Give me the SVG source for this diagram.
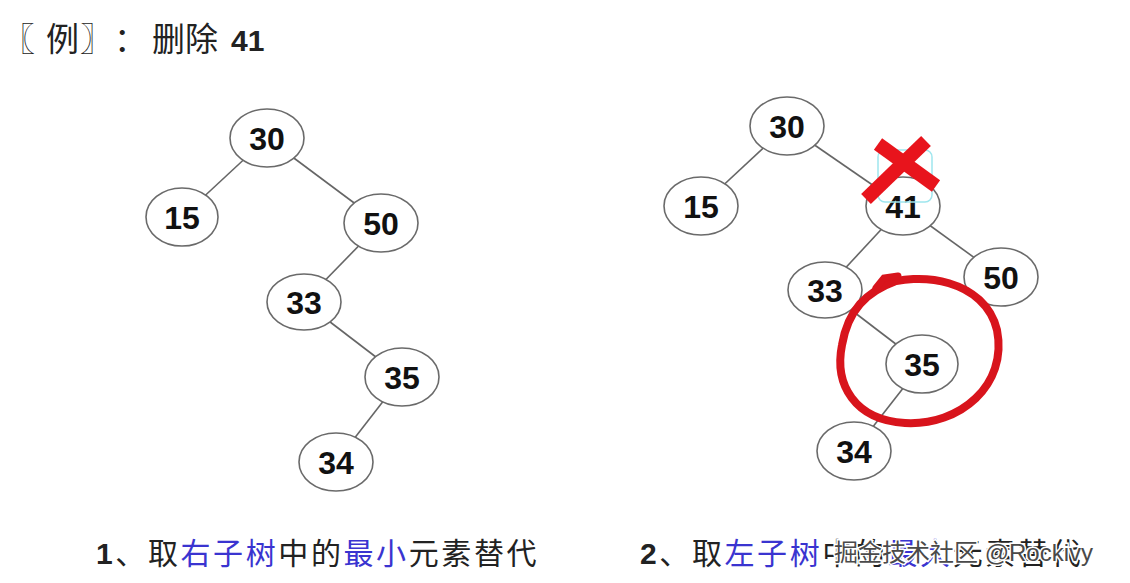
<svg xmlns="http://www.w3.org/2000/svg" width="1130" height="583" viewBox="0 0 1130 583">
<style>
.n ellipse{fill:#fff;stroke:#6a6a6a;stroke-width:1.6}
.n text{font-family:"Liberation Sans",Arial,sans-serif;font-weight:bold;font-size:32px;fill:#111;text-anchor:middle}
.e line{stroke:#666;stroke-width:1.6}
.t{font-family:"Liberation Sans","Noto Sans CJK SC",sans-serif;font-size:30px;fill:#222}
.c{font-family:"Noto Sans CJK SC",sans-serif;font-size:33px;fill:#222}
.b{fill:#3a34d0}
.wm{font-family:"Liberation Sans","Noto Sans CJK SC",sans-serif;font-size:24px;fill:#4a4a4a;stroke:#fff;stroke-width:3;paint-order:stroke}
</style>
<rect width="1130" height="583" fill="#fff"/>
<g id="title">
<text class="c" x="2" y="51">〖</text>
<text class="c" x="46" y="51">例</text>
<text class="c" x="80" y="51">〗</text>
<text class="c" x="114" y="51">：</text>
<text class="c" x="152" y="51">删除</text>
<text class="t" x="231" y="51" font-size="33" font-weight="bold">41</text>
</g>
<g id="connectors" class="e">
<line x1="267" y1="138" x2="182" y2="217"/>
<line x1="267" y1="138" x2="381" y2="223"/>
<line x1="381" y1="223" x2="304" y2="302"/>
<line x1="304" y1="302" x2="402" y2="377"/>
<line x1="402" y1="377" x2="336" y2="462"/>
<line x1="787" y1="126" x2="701" y2="206"/>
<line x1="787" y1="126" x2="903" y2="206"/>
<line x1="903" y1="206" x2="825" y2="290"/>
<line x1="903" y1="206" x2="1001" y2="277"/>
<line x1="825" y1="290" x2="922" y2="364"/>
<line x1="922" y1="364" x2="854" y2="451"/>
</g>
<g id="L30" class="n"><ellipse cx="267" cy="138" rx="37" ry="29"/><text x="267" y="150">30</text></g>
<g id="L15" class="n"><ellipse cx="182" cy="217" rx="36" ry="29"/><text x="182" y="229">15</text></g>
<g id="L50" class="n"><ellipse cx="381" cy="223" rx="37" ry="29"/><text x="381" y="235">50</text></g>
<g id="L33" class="n"><ellipse cx="304" cy="302" rx="37" ry="28"/><text x="304" y="314">33</text></g>
<g id="L35" class="n"><ellipse cx="402" cy="377" rx="37" ry="29"/><text x="402" y="389">35</text></g>
<g id="L34" class="n"><ellipse cx="336" cy="462" rx="37" ry="29"/><text x="336" y="474">34</text></g>
<g id="R30" class="n"><ellipse cx="787" cy="126" rx="37" ry="29"/><text x="787" y="138">30</text></g>
<g id="R15" class="n"><ellipse cx="701" cy="206" rx="37" ry="29"/><text x="701" y="218">15</text></g>
<g id="R41" class="n"><ellipse cx="903" cy="206" rx="37" ry="29"/><text x="903" y="218">41</text></g>
<g id="R33" class="n"><ellipse cx="825" cy="290" rx="37" ry="28"/><text x="825" y="302">33</text></g>
<g id="R50" class="n"><ellipse cx="1001" cy="277" rx="37" ry="29"/><text x="1001" y="289">50</text></g>
<g id="R35" class="n"><ellipse cx="922" cy="364" rx="36" ry="29"/><text x="922" y="376">35</text></g>
<g id="R34" class="n"><ellipse cx="854" cy="451" rx="37" ry="29"/><text x="854" y="463">34</text></g>
<g id="marks">
<rect x="878" y="150" width="54" height="52" rx="7" fill="none" stroke="#9fe6ee" stroke-width="1.5"/>
<line x1="878" y1="144" x2="936" y2="186" stroke="#e8141c" stroke-width="14"/>
<line x1="926" y1="141" x2="866" y2="199" stroke="#e8141c" stroke-width="14"/>
<path d="M 880,286 C 920,270 985,280 997,330 C 1008,385 960,426 905,423 C 855,420 834,385 842,345 C 848,310 866,292 896,281" fill="none" stroke="#d8141c" stroke-width="8" stroke-linecap="round"/>
<path d="M 876,288 L 884,278 L 898,276" fill="none" stroke="#d8141c" stroke-width="7" stroke-linecap="round"/>
</g>
<g id="label1">
<text class="t" x="96" y="564" letter-spacing="2.6"><tspan font-weight="bold">1</tspan>、取<tspan class="b">右子树</tspan>中的<tspan class="b">最小</tspan>元素替代</text>
</g>
<g id="label2">
<text class="t" x="640" y="564" letter-spacing="2.6"><tspan font-weight="bold">2</tspan>、取<tspan class="b">左子树</tspan>中的<tspan class="b">最大</tspan>元素替代</text>
<text class="wm" x="834" y="561">掘金技术社区 @Rockivy</text>
</g>
</svg>
